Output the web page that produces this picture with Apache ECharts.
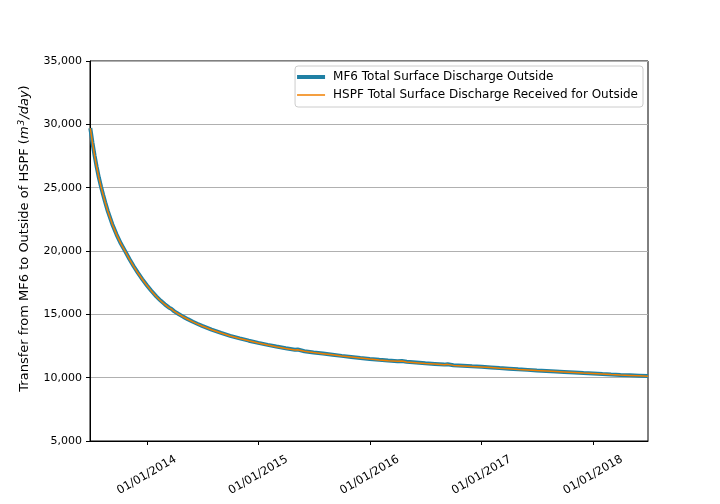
<!DOCTYPE html>
<html>
<head>
<meta charset="utf-8">
<script src="https://cdn.jsdelivr.net/npm/echarts@6/dist/echarts.min.js"></script>
<style>
  html, body { margin: 0; padding: 0; background: #fff; }
  #chart { width: 720px; height: 504px; }
</style>
</head>
<body>
<div id="chart"></div>
<script>
// dates of the samples
const dates = [
  '2013-06-30', '2013-07-07', '2013-07-14', '2013-07-21', '2013-07-28', '2013-08-04',
  '2013-08-11', '2013-08-18', '2013-08-26', '2013-09-10', '2013-09-24', '2013-10-08',
  '2013-10-22', '2013-11-05', '2013-11-19', '2013-12-03', '2013-12-17', '2014-01-01',
  '2014-01-15', '2014-02-01', '2014-02-15', '2014-03-01', '2014-03-15', '2014-03-22',
  '2014-04-01', '2014-04-15', '2014-05-01', '2014-05-15', '2014-06-01', '2014-06-15',
  '2014-07-01', '2014-08-01', '2014-09-01', '2014-10-01', '2014-11-01', '2014-12-01',
  '2015-01-01', '2015-02-01', '2015-03-01', '2015-04-01', '2015-05-01', '2015-05-10',
  '2015-06-01', '2015-07-01', '2015-08-01', '2015-09-01', '2015-10-01', '2015-11-01',
  '2015-12-01', '2016-01-01', '2016-02-01', '2016-03-01', '2016-04-01', '2016-04-15',
  '2016-05-01', '2016-06-01', '2016-07-01', '2016-08-01', '2016-09-01', '2016-09-12',
  '2016-10-01', '2016-11-01', '2016-12-01', '2017-01-01', '2017-02-01', '2017-03-01',
  '2017-04-01', '2017-05-01', '2017-06-01', '2017-07-01', '2017-08-01', '2017-09-01',
  '2017-09-28', '2017-10-01', '2017-11-01', '2017-12-01', '2018-01-01', '2018-02-01',
  '2018-03-01', '2018-04-01', '2018-05-01', '2018-06-01', '2018-06-30'
]

// MF6 Total Surface Discharge Outside (m3/day)
const mf6Values = [
  29700, 28560, 27540, 26620, 25800, 25090,
  24440, 23830, 23170, 22120, 21300, 20590,
  19990, 19375, 18800, 18270, 17780, 17300,
  16880, 16420, 16085, 15790, 15525, 15440,
  15235, 15025, 14800, 14620, 14415, 14260,
  14090, 13795, 13530, 13300, 13100, 12920,
  12750, 12590, 12455, 12320, 12200, 12220,
  12090, 11990, 11900, 11810, 11720, 11640,
  11560, 11480, 11410, 11350, 11300, 11320,
  11250, 11190, 11130, 11080, 11030, 11060,
  10980, 10940, 10900, 10860, 10810, 10760,
  10710, 10660, 10615, 10570, 10530, 10490,
  10455, 10510, 10410, 10370, 10330, 10290,
  10255, 10220, 10190, 10160, 10130
]

// HSPF Total Surface Discharge Received for Outside (m3/day)
const hspfValues = [
  29690, 28550, 27530, 26610, 25790, 25080,
  24430, 23820, 23160, 22110, 21290, 20580,
  19980, 19365, 18790, 18260, 17770, 17290,
  16870, 16410, 16075, 15780, 15515, 15430,
  15225, 15015, 14790, 14610, 14405, 14250,
  14080, 13785, 13520, 13290, 13090, 12910,
  12740, 12580, 12445, 12310, 12190, 12210,
  12080, 11980, 11890, 11800, 11710, 11630,
  11550, 11470, 11400, 11340, 11290, 11310,
  11240, 11180, 11120, 11070, 11020, 11050,
  10970, 10930, 10890, 10850, 10800, 10750,
  10700, 10650, 10605, 10560, 10520, 10480,
  10445, 10500, 10400, 10360, 10320, 10280,
  10245, 10210, 10180, 10150, 10120
]

const yearTicks = ['2014-01-01', '2015-01-01', '2016-01-01', '2017-01-01', '2018-01-01']
const yTicks = [5000, 10000, 15000, 20000, 25000, 30000, 35000]
const mf6Name = 'MF6 Total Surface Discharge Outside'
const hspfName = 'HSPF Total Surface Discharge Received for Outside'

const font = 'DejaVu Sans'
const toTime = d => +new Date(d + 'T00:00:00')
let myEcharts = echarts.init(document.getElementById('chart'))
let tickTimes = yearTicks.map(toTime)

let option = {
  animation: false,
  textStyle: { fontFamily: font, color: '#000' },
  grid: {
    left: 90, right: 72, top: 61, bottom: 63,
    show: true, borderColor: '#000', borderWidth: 1,
    containLabel: false
  },
  legend: {
    orient: 'vertical',
    right: 77,
    top: 66,
    itemWidth: 28,
    itemHeight: 14,
    itemGap: 6,
    padding: [5, 5, 6, 2],
    borderColor: '#cccccc',
    borderWidth: 1,
    borderRadius: 3,
    symbolKeepAspect: true,
    backgroundColor: 'rgba(255,255,255,0.8)',
    textStyle: { fontFamily: font, fontSize: 12, color: '#000', padding: [0, 0, 0, 3] },
    data: [
      { name: mf6Name, icon: 'path://M0,0h28v4h-28z' },
      { name: hspfName, icon: 'path://M0,0h28v1.5h-28z' }
    ]
  },
  xAxis: {
    type: 'value',
    min: toTime('2013-06-29'),
    max: toTime('2018-06-30'),
    axisLine: { lineStyle: { color: '#000', width: 1 } },
    axisTick: {
      show: true, length: 4, lineStyle: { color: '#000' },
      customValues: tickTimes
    },
    axisLabel: {
      customValues: tickTimes,
      rotate: 30,
      align: 'center',
      verticalAlign: 'middle',
      margin: 34,
      fontSize: 11.5,
      color: '#000',
      fontFamily: font,
      formatter(value) {
        return echarts.time.format(value, '{MM}/{dd}/{yyyy}', false)
      }
    },
    splitLine: { show: false }
  },
  yAxis: {
    type: 'value',
    min: 5000,
    max: 35000,
    interval: 5000,
    name: 'Transfer from MF6 to Outside of HSPF ({i|m}{sup|3}{i|/day})',
    nameLocation: 'middle',
    nameGap: 57,
    nameTextStyle: {
      fontFamily: font, fontSize: 13, color: '#000',
      padding: [0, 0, 0, 25],
      rich: {
        i: { fontFamily: font, fontSize: 13, fontStyle: 'italic', color: '#000' },
        sup: { fontFamily: font, fontSize: 9, fontStyle: 'italic', color: '#000', padding: [0, 1, 7, 1] }
      }
    },
    axisLine: { show: true, lineStyle: { color: '#000', width: 1 } },
    axisTick: { show: true, length: 4, lineStyle: { color: '#000' } },
    axisLabel: {
      fontSize: 11, color: '#000', fontFamily: font, margin: 8,
      formatter(v) {
        return yTicks.includes(v) ? v.toLocaleString('en-US') : ''
      }
    },
    splitLine: { show: true, lineStyle: { color: '#b0b0b0', width: 1 } }
  },
  series: [
    {
      name: mf6Name,
      type: 'line',
      showSymbol: false,
      symbol: 'none',
      lineStyle: { color: '#1f80a4', width: 4 },
      itemStyle: { color: '#1f80a4' },
      data: dates.map((d, i) => [toTime(d), mf6Values[i]])
    },
    {
      name: hspfName,
      type: 'line',
      showSymbol: false,
      symbol: 'none',
      lineStyle: { color: '#f07f00', width: 1.5 },
      itemStyle: { color: '#f07f00' },
      data: dates.map((d, i) => [toTime(d), hspfValues[i]])
    }
  ]
}
myEcharts.setOption(option)
</script>
</body>
</html>
